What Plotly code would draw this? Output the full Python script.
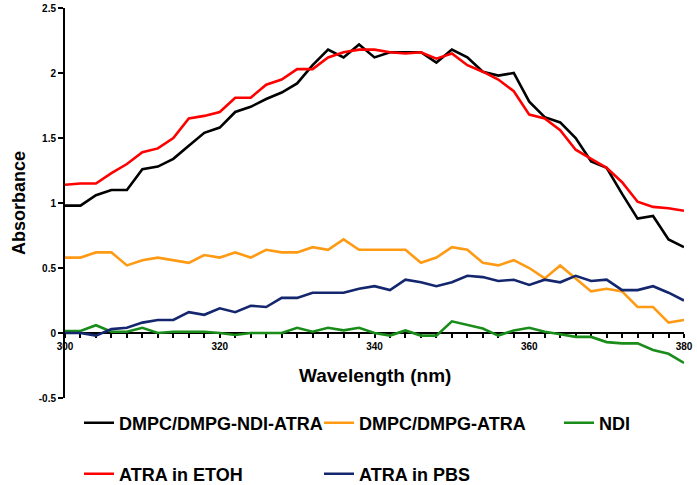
import plotly.graph_objects as go

wavelength = [300, 302, 304, 306, 308, 310, 312, 314, 316, 318, 320, 322, 324, 326,
              328, 330, 332, 334, 336, 338, 340, 342, 344, 346, 348, 350, 352, 354,
              356, 358, 360, 362, 364, 366, 368, 370, 372, 374, 376, 378, 380]

ndi_atra = [0.98, 0.98, 1.06, 1.10, 1.10, 1.26, 1.28, 1.34, 1.44, 1.54, 1.58, 1.70, 1.74, 1.80,
            1.85, 1.92, 2.06, 2.18, 2.12, 2.22, 2.12, 2.16, 2.16, 2.16, 2.08, 2.18, 2.12,
            2.01, 1.98, 2.00, 1.78, 1.66, 1.62, 1.50, 1.32, 1.27, 1.07, 0.88, 0.90, 0.72, 0.66]

dmpc_atra = [0.58, 0.58, 0.62, 0.62, 0.52, 0.56, 0.58, 0.56, 0.54, 0.60, 0.58, 0.62, 0.58, 0.64,
             0.62, 0.62, 0.66, 0.64, 0.72, 0.64, 0.64, 0.64, 0.64, 0.54, 0.58, 0.66, 0.64,
             0.54, 0.52, 0.56, 0.50, 0.42, 0.52, 0.42, 0.32, 0.34, 0.32, 0.20, 0.20, 0.08, 0.10]

ndi = [0.015, 0.015, 0.06, 0.01, 0.01, 0.04, 0.00, 0.01, 0.01, 0.01, 0.00, -0.015, 0.00, 0.00,
       0.00, 0.04, 0.01, 0.04, 0.02, 0.04, 0.00, -0.02, 0.02, -0.02, -0.02, 0.09, 0.065,
       0.035, -0.02, 0.02, 0.04, 0.01, -0.01, -0.03, -0.03, -0.07, -0.08, -0.08, -0.13, -0.16, -0.23]

atra_etoh = [1.14, 1.15, 1.15, 1.23, 1.30, 1.39, 1.42, 1.50, 1.65, 1.67, 1.70, 1.81, 1.81, 1.91,
             1.95, 2.03, 2.03, 2.12, 2.16, 2.18, 2.18, 2.16, 2.15, 2.16, 2.11, 2.15, 2.06,
             2.01, 1.95, 1.86, 1.68, 1.65, 1.56, 1.41, 1.34, 1.27, 1.16, 1.01, 0.97, 0.96, 0.94]

atra_pbs = [0.00, 0.00, -0.02, 0.03, 0.04, 0.08, 0.10, 0.10, 0.16, 0.14, 0.19, 0.16, 0.21, 0.20,
            0.27, 0.27, 0.31, 0.31, 0.31, 0.34, 0.36, 0.33, 0.41, 0.39, 0.36, 0.39, 0.44,
            0.43, 0.40, 0.41, 0.37, 0.41, 0.39, 0.44, 0.40, 0.41, 0.33, 0.33, 0.36, 0.31, 0.25]

series_names = ["DMPC/DMPG-NDI-ATRA", "DMPC/DMPG-ATRA", "NDI", "ATRA in ETOH", "ATRA in PBS"]
y_tick_vals = [-0.5, 0, 0.5, 1, 1.5, 2, 2.5]
y_tick_text = ["-0.5", "0", "0.5", "1", "1.5", "2", "2.5"]
x_tick_vals = [300, 320, 340, 360, 380]

FONT = "Arial, 'Liberation Sans', sans-serif"

series = [
    (ndi_atra, "#000000", "legend", None),
    (dmpc_atra, "#FF9A14", "legend", None),
    (ndi, "#1A8C1A", "legend", 50),
    (atra_etoh, "#FF0000", "legend2", None),
    (atra_pbs, "#14266E", "legend2", None),
]

fig = go.Figure()
for (vals, color, lg, lw), name in zip(series, series_names):
    tr = go.Scatter(x=wavelength, y=vals, name=name, mode="lines",
                    line=dict(color=color, width=2.6), legend=lg)
    if lw is not None:
        tr.legendwidth = lw
    fig.add_trace(tr)

legend_common = dict(orientation="h", xanchor="left", yanchor="middle",
                     entrywidth=195, entrywidthmode="pixels", itemwidth=30,
                     font=dict(family=FONT, size=18, color="black", weight="bold"),
                     bgcolor="rgba(0,0,0,0)", borderwidth=0, tracegroupgap=0)

fig.update_layout(
    width=697, height=485,
    margin=dict(l=65, r=13, t=8, b=87, autoexpand=False),
    plot_bgcolor="white", paper_bgcolor="white",
    showlegend=True,
    legend=dict(x=(79 - 65) / 619, y=-25 / 390, **legend_common),
    legend2=dict(x=(79 - 65) / 619, y=-76 / 390, **legend_common),
    xaxis=dict(range=[300, 380], anchor="free", position=1 / 6, automargin=False,
               showline=True, linecolor="black", linewidth=2,
               tickvals=x_tick_vals, ticks="outside", ticklen=4, tickwidth=1.5,
               tickcolor="black",
               minor=dict(dtick=2, ticks="outside", ticklen=4, tickwidth=1.5,
                          tickcolor="black", showgrid=False),
               showgrid=False, zeroline=False, layer="below traces",
               tickfont=dict(family=FONT, size=10, color="black", weight="bold")),
    yaxis=dict(range=[-0.5, 2.5], showline=True, linecolor="black", linewidth=2,
               automargin=False,
               tickvals=y_tick_vals, ticktext=y_tick_text,
               ticks="outside", ticklen=5, tickwidth=1.5, tickcolor="black",
               showgrid=False, zeroline=False,
               tickfont=dict(family=FONT, size=10, color="black", weight="bold")),
    annotations=[
        dict(text="Absorbance", xref="paper", yref="paper", x=(19 - 65) / 619, y=0.5,
             textangle=-90, showarrow=False, xanchor="center", yanchor="middle",
             font=dict(family=FONT, size=18, color="black", weight="bold")),
        dict(text="Wavelength (nm)", xref="paper", yref="paper", x=0.5, y=-(375 - 398) / 390,
             showarrow=False, xanchor="center", yanchor="middle",
             font=dict(family=FONT, size=19, color="black", weight="bold")),
    ],
)

fig.write_html("out.html",
               config={"displayModeBar": False},
               post_script="document.body.style.margin='0';document.body.style.overflow='hidden';")
